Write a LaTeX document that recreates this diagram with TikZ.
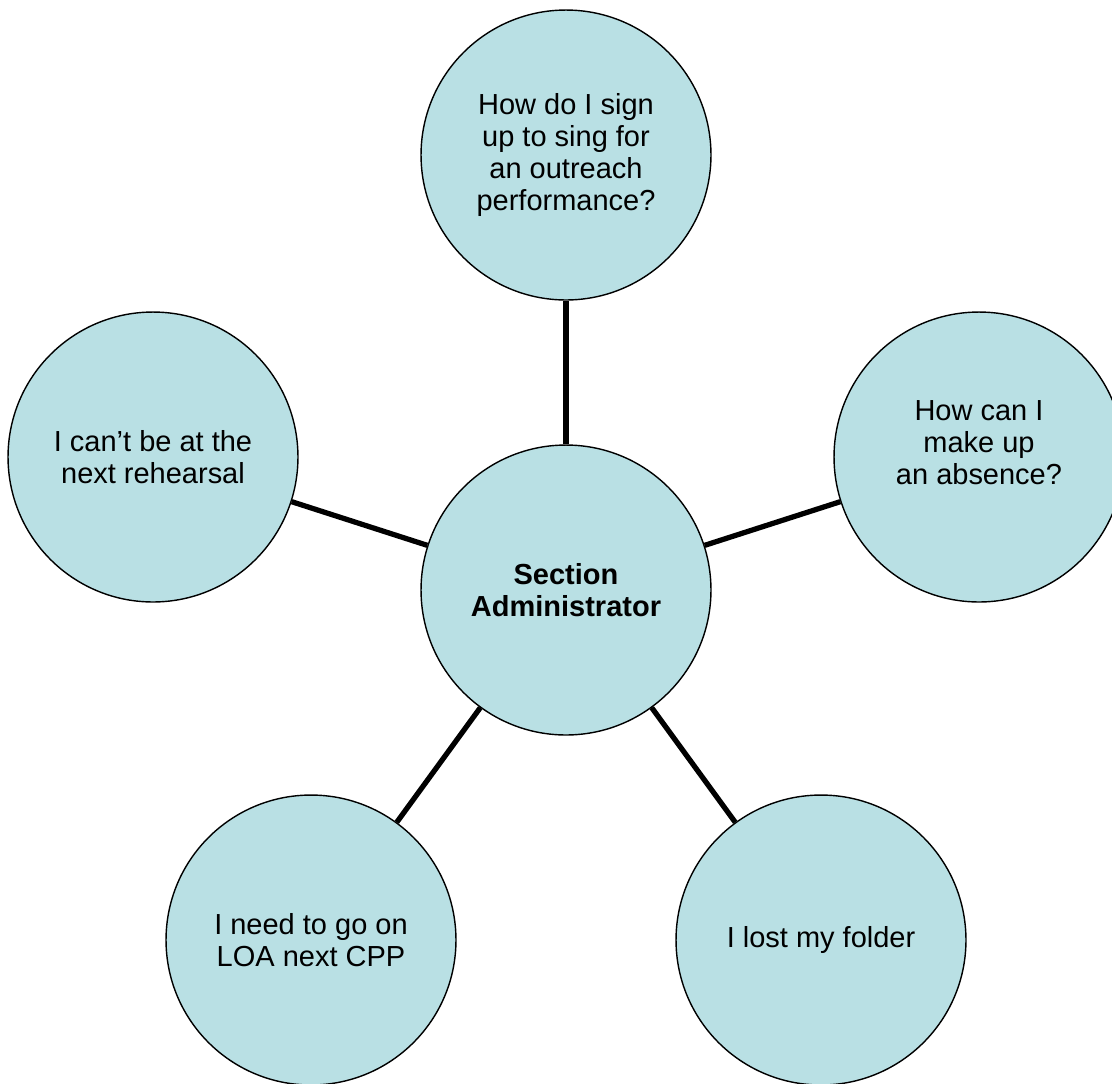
\documentclass[tikz,border=0pt]{standalone}
\usepackage{fontspec}
\setmainfont{Liberation Sans}
\usepackage{tikz}
\usetikzlibrary{positioning}
\definecolor{bubblefill}{RGB}{185,224,228}

\begin{document}
\begin{tikzpicture}[
    x=0.02cm, y=-0.02cm,
    bubble/.style={circle, draw, line width=0.8pt, fill=bubblefill, minimum size=5.8cm,
        inner sep=0pt, align=center, font=\fontsize{16.5pt}{18.4pt}\selectfont},
    hub/.style={bubble, font=\fontsize{16.5pt}{18.4pt}\selectfont\bfseries},
    link/.style={line width=3pt}
]
\clip (0,0) rectangle (1112,1083);
\useasboundingbox (0,0) rectangle (1112,1083);

\node[hub] (admin) at (566,590) {Section\\Administrator};

\node[bubble] (outreach) at (566,155)
{How do I sign\\up to sing for\\an outreach\\performance?};

\node[bubble] (rehearsal) at (153,457)
{I can’t be at the\\next rehearsal};

% text sits a little above the middle here
\node[bubble] (absence) at (979,457)
{How can I\\make up\\an absence?\\[-2pt]\mbox{}};

\node[bubble] (loa) at (311,940)
{I need to go on\\LOA next CPP};

\node[bubble] (folder) at (821,940)
{I lost my folder};

\draw[link] (admin) -- (outreach);
\draw[link] (admin) -- (rehearsal);
\draw[link] (admin) -- (absence);
\draw[link] (admin) -- (loa);
\draw[link] (admin) -- (folder);

\end{tikzpicture}
\end{document}
